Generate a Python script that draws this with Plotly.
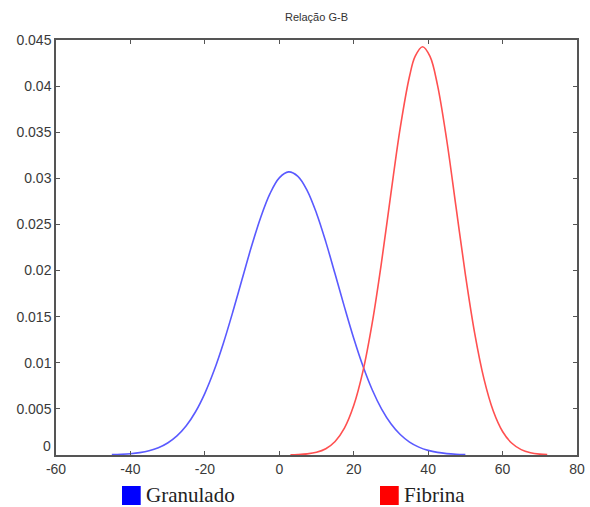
import plotly.graph_objects as go

title_text = "Relação G-B"

granulado_x = [-45, -42.5, -40, -37.5, -35, -32.5, -30, -27.5, -25, -22.5, -20, -17.5,
               -15, -12.5, -10, -7.5, -5, -2.5, 0, 2.5, 5, 7.5, 10, 12.5, 15, 17.5,
               20, 22.5, 25, 27.5, 30, 32.5, 35, 37.5, 40, 42.5, 45, 47.5, 50]
granulado_y = [0.000037, 0.000073, 0.000139, 0.000258, 0.000458, 0.000785, 0.00130,
               0.00207, 0.00317, 0.00469, 0.00669, 0.00918, 0.01215, 0.01550, 0.01905,
               0.02257, 0.02576, 0.02834, 0.03005, 0.03070, 0.03022, 0.02868, 0.02622,
               0.02311, 0.01962, 0.01606, 0.01266, 0.00962, 0.00705, 0.00498, 0.00339,
               0.00222, 0.00140, 0.000853, 0.000501, 0.000283, 0.000154, 0.000081, 0.000041]

fibrina_x = [3, 5, 7.5, 10, 12.5, 15, 17.5, 20, 22.5, 25, 27.5, 30, 32.5, 35, 36.5, 38.5,
             40.5, 42.5, 45, 47.5, 50, 52.5, 55, 57.5, 60, 62.5, 65, 67.5, 70, 72]
fibrina_y = [0.000019, 0.000044, 0.000118, 0.000294, 0.000683, 0.001465, 0.00291,
             0.00536, 0.00912, 0.01438, 0.02099, 0.02836, 0.03547, 0.04107, 0.04322, 0.04427,
             0.04322, 0.04014, 0.03413, 0.02687, 0.01958, 0.01321, 0.00825, 0.00477,
             0.00255, 0.00127, 0.000581, 0.000246, 0.000097, 0.000044]

x_ticks = [-60, -40, -20, 0, 20, 40, 60, 80]
y_ticks = [0, 0.005, 0.01, 0.015, 0.02, 0.025, 0.03, 0.035, 0.04, 0.045]
y_tick_labels = ["0", "0.005", "0.01", "0.015", "0.02", "0.025", "0.03", "0.035", "0.04", "0.045"]

legend_names = ["Granulado", "Fibrina"]
legend_colors = ["#0000ff", "#ff0000"]

fig = go.Figure()
fig.add_trace(go.Scatter(x=granulado_x, y=granulado_y, mode="lines",
                         line=dict(color="#5a5aff", width=1.6, shape="spline"),
                         name="Granulado", showlegend=False))
fig.add_trace(go.Scatter(x=fibrina_x, y=fibrina_y, mode="lines",
                         line=dict(color="#ff5050", width=1.6, shape="spline"),
                         name="Fibrina", showlegend=False))

tick_font = dict(family="Liberation Sans, Arial", size=14, color="#3a3a3a")
axis_common = dict(showline=True, linecolor="#555555", linewidth=1.5, mirror="ticks",
                   ticks="inside", ticklen=4, tickcolor="#555555", showgrid=False, zeroline=False,
                   tickfont=tick_font, ticklabeloverflow="allow")

fig.update_xaxes(range=[-60, 80], tickvals=x_ticks, ticktext=[str(v) for v in x_ticks], **axis_common)
# the "0" label on y is raised above the corner (as in the original) to clear the "-60" label
fig.update_yaxes(range=[0, 0.045], tickvals=y_ticks,
                 ticktext=[""] + y_tick_labels[1:], **axis_common)
fig.add_annotation(xref="paper", yref="y", x=0, y=y_ticks[0], text=y_tick_labels[0], showarrow=False,
                   xanchor="right", yanchor="middle", xshift=-3, yshift=9, font=tick_font)

W, H = 590, 507
ml, mr, mt, mb = 56, 5, 40, 52
pw, ph = W - ml - mr, H - mt - mb

def px(x):
    return (x - ml) / pw

def py(y):
    return (H - mb - y) / ph

legend_pos = [(123, 145), (385, 407)]
for name, col, (sx, tx) in zip(legend_names, legend_colors, legend_pos):
    fig.add_shape(type="rect", xref="paper", yref="paper", x0=px(sx), x1=px(sx + 19),
                  y0=py(505), y1=py(486), fillcolor=col, line=dict(width=0))
    fig.add_annotation(xref="paper", yref="paper", x=px(tx), y=py(495), text=name, showarrow=False,
                       xanchor="left", yanchor="middle",
                       font=dict(family="Liberation Serif, Times New Roman", size=21, color="#222222"))

fig.add_annotation(xref="paper", yref="paper", x=px(320), y=py(17), text=title_text, showarrow=False,
                   xanchor="center", yanchor="middle",
                   font=dict(family="Liberation Sans, Arial", size=11, color="#333333"))

fig.update_layout(width=W, height=H, margin=dict(l=ml, r=mr, t=mt, b=mb),
                  plot_bgcolor="white", paper_bgcolor="white", showlegend=False)

fig.write_html("out.html", config={"displayModeBar": False},
               post_script="document.body.style.margin='0';document.body.style.overflow='hidden';")
